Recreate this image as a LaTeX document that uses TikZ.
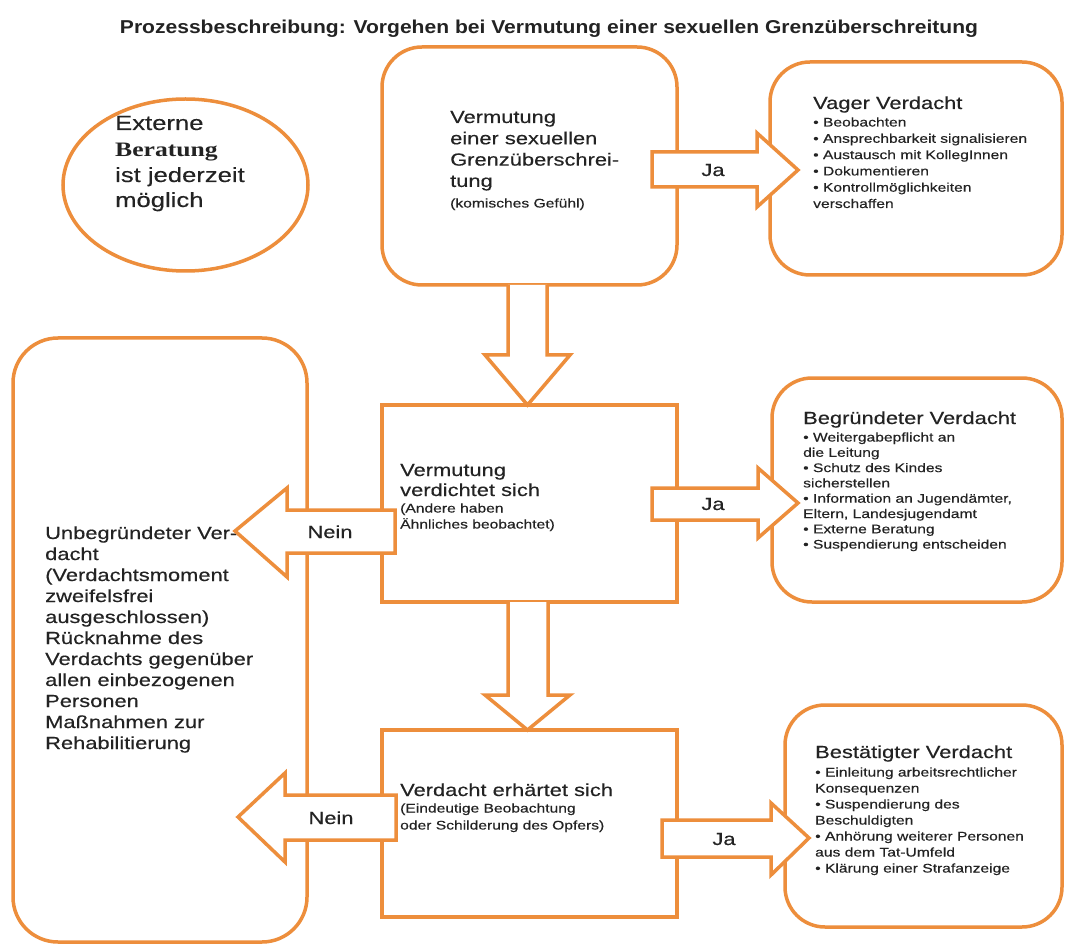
\documentclass[tikz,border=0pt]{standalone}
\usepackage{fontspec}
\usepackage{graphicx}
\setmainfont[FakeStretch=1.25,FakeBold=0.35]{Liberation Sans}
\newfontfamily\titlefont{Liberation Sans}
\newfontfamily\serifwide[FakeStretch=1.25]{Liberation Serif}
\usetikzlibrary{shapes.geometric}
\definecolor{org}{RGB}{237,142,60}
\definecolor{txt}{RGB}{35,35,35}
\begin{document}
\begin{tikzpicture}[x=1pt,y=-1pt,
  box/.style={draw=org,line width=3.5pt,inner sep=0pt,outer sep=0pt,anchor=north west},
  barrow/.style={draw=org,line width=3.5pt,fill=white,line join=miter},
  big/.style={font=\fontsize{17.5}{20}\selectfont,text=txt,inner sep=0pt,anchor=base west},
  small/.style={font=\fontsize{12.5}{14}\selectfont,text=txt,inner sep=0pt,anchor=base west},
  lab/.style={font=\fontsize{17.5}{20}\selectfont,text=txt,inner sep=0pt,anchor=base}]
\useasboundingbox (0,0) rectangle (1065,949);
\fill[white] (0,0) rectangle (1065,949);

% title
\node[anchor=base,inner sep=0pt,text=txt] (title) at (549,33.5)
  {\resizebox{858pt}{13.5pt}{\titlefont\bfseries Prozessbeschreibung: Vorgehen bei Vermutung einer sexuellen Grenzüberschreitung}};

% boxes
\node[draw=org,line width=3.5pt,ellipse,minimum width=245pt,minimum height=172pt,inner sep=0pt] (ext) at (185.5,185) {};
\node[box,rounded corners=40pt,minimum width=295pt,minimum height=238pt] (top) at (382,47) {};
\node[box,rounded corners=40pt,minimum width=292pt,minimum height=213pt] (vag) at (770,62) {};
\node[box,minimum width=295pt,minimum height=197pt] (mid) at (382,405) {};
\node[box,rounded corners=40pt,minimum width=290pt,minimum height=224pt] (beg) at (772,378) {};
\node[box,minimum width=295pt,minimum height=187pt] (bot) at (382,730) {};
\node[box,rounded corners=40pt,minimum width=277pt,minimum height=222pt] (bes) at (785,705) {};
\node[box,rounded corners=45pt,minimum width=294pt,minimum height=604pt] (unb) at (13,338) {};

% ellipse text
\node[text=txt,inner sep=0pt,anchor=base west,font=\fontsize{20.5}{24}\selectfont] (e1) at (115,130) {Externe};
\node[text=txt,inner sep=0pt,anchor=base west,font=\fontsize{20.5}{24}\selectfont\serifwide\bfseries] (e2) at (115,157) {Beratung};
\node[text=txt,inner sep=0pt,anchor=base west,font=\fontsize{20.5}{24}\selectfont] (e3) at (115,182) {ist jederzeit};
\node[text=txt,inner sep=0pt,anchor=base west,font=\fontsize{20.5}{24}\selectfont] (e4) at (115,207) {möglich};

% top box text
\foreach \t [count=\i] in {Vermutung,einer sexuellen,Grenzüberschrei-,tung}
  \node[big] (tp\i) at (450,{123+21.3*(\i-1)}) {\t};
\node[small] (tps) at (450,207.5) {(komisches Gefühl)};

% vager
\node[big] (vgt) at (813,109) {Vager Verdacht};
\foreach \t [count=\i] in {• Beobachten,• Ansprechbarkeit signalisieren,• Austausch mit KollegInnen,• Dokumentieren,• Kontrollmöglichkeiten,verschaffen}
  \node[small] (vg\i) at (813,{126.5+16.3*(\i-1)}) {\t};

% middle
\node[big] (md1) at (400,476) {Vermutung};
\node[big] (md2) at (400,496) {verdichtet sich};
\node[small] (md3) at (400,512.5) {(Andere haben};
\node[small] (md4) at (400,528.5) {Ähnliches beobachtet)};

% begruendeter
\node[big] (bgt) at (803,424) {Begründeter Verdacht};
\foreach \t [count=\i] in {• Weitergabepflicht an,die Leitung,• Schutz des Kindes,sicherstellen,{• Information an Jugendämter,},{Eltern, Landesjugendamt},• Externe Beratung,• Suspendierung entscheiden}
  \node[small] (bg\i) at (803,{441.5+15.3*(\i-1)}) {\t};

% bottom
\node[big] (bt1) at (400,796) {Verdacht erhärtet sich};
\node[small] (bt2) at (400,812.5) {(Eindeutige Beobachtung};
\node[small] (bt3) at (400,829.5) {oder Schilderung des Opfers)};

% bestaetigter
\node[big] (bst) at (815,758) {Bestätigter Verdacht};
\foreach \t [count=\i] in {• Einleitung arbeitsrechtlicher,Konsequenzen,• Suspendierung des,Beschuldigten,• Anhörung weiterer Personen,aus dem Tat-Umfeld,• Klärung einer Strafanzeige}
  \node[small] (bs\i) at (815,{776.5+16*(\i-1)}) {\t};

% left box
\foreach \t [count=\i] in {Unbegründeter Ver-,dacht,{(Verdachtsmoment},zweifelsfrei,{ausgeschlossen)},Rücknahme des,Verdachts gegenüber,allen einbezogenen,Personen,Maßnahmen zur,Rehabilitierung}
  \node[big] (ub\i) at (45,{539+21*(\i-1)}) {\t};

% block arrows
\draw[barrow] (508,285) -- (508,355) -- (485,355) -- (527.5,405) -- (570,355) -- (547,355) -- (547,285);
\draw[barrow] (508,602) -- (508,695) -- (485,695) -- (527.5,730) -- (570,695) -- (548,695) -- (548,602);

\draw[barrow] (652,152) -- (757,152) -- (757,133) -- (798,170) -- (757,207) -- (757,187) -- (652,187) -- cycle;
\node[lab] (ja1) at (713,176) {Ja};
\draw[barrow] (652,488) -- (758,488) -- (758,468) -- (798,503) -- (758,538) -- (758,520) -- (652,520) -- cycle;
\node[lab] (ja2) at (713,510) {Ja};
\draw[barrow] (662,820) -- (771,820) -- (771,803) -- (809,838) -- (771,875) -- (771,857) -- (662,857) -- cycle;
\node[lab] (ja3) at (724,845) {Ja};

\draw[barrow] (395,510) -- (287,510) -- (287,488) -- (235,531) -- (287,577) -- (287,553) -- (395,553) -- cycle;
\node[lab] (ne1) at (330,538) {Nein};
\draw[barrow] (396,795) -- (285,795) -- (285,773) -- (238,817) -- (285,862) -- (285,840) -- (396,840) -- cycle;
\node[lab] (ne2) at (331,824) {Nein};
\end{tikzpicture}
\end{document}
